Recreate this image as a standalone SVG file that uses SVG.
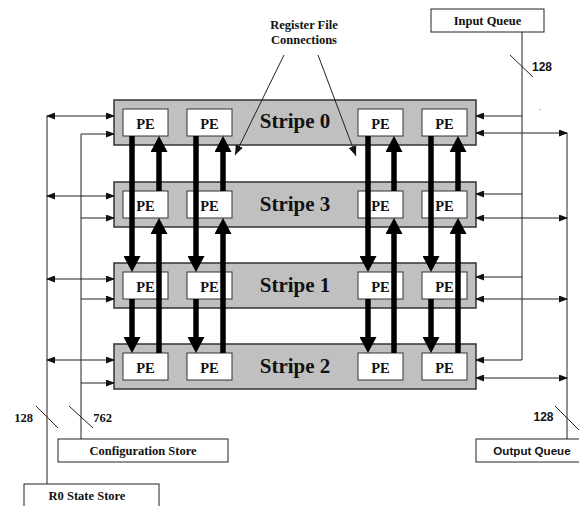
<svg xmlns="http://www.w3.org/2000/svg" width="579" height="506" viewBox="0 0 579 506">
<style>
.stripe{fill:#c0c0c0;stroke:#333;stroke-width:1.5}
.pe{fill:#fff;stroke:#333;stroke-width:1}
.box{fill:#fff;stroke:#222;stroke-width:1}
.ln{fill:none;stroke:#222;stroke-width:1}
.thick{fill:none;stroke:#000;stroke-width:5.5}
.st{font-family:"Liberation Serif","Times New Roman",serif;font-weight:bold;font-size:21px;fill:#111;text-anchor:middle}
.pet{font-family:"Liberation Serif","Times New Roman",serif;font-weight:bold;font-size:14.5px;fill:#111;text-anchor:middle}
.lbl{font-family:"Liberation Serif","Times New Roman",serif;font-weight:bold;font-size:12.5px;fill:#111;text-anchor:middle}
.sans{font-family:"Liberation Sans",Arial,sans-serif;font-weight:bold;font-size:12px;fill:#111;text-anchor:middle}
</style>
<defs>
<marker id="ah" markerUnits="userSpaceOnUse" markerWidth="9" markerHeight="7" refX="8" refY="3.5" orient="auto-start-reverse" viewBox="0 0 9 7">
<path d="M0,0 L9,3.5 L0,7 z" fill="#111"/>
</marker>
<marker id="rh" markerUnits="userSpaceOnUse" markerWidth="10" markerHeight="8" refX="10" refY="4" orient="auto" viewBox="0 0 10 8">
<path d="M0,0 L10,4 L0,8 z" fill="#111"/>
</marker>
<marker id="th" markerUnits="userSpaceOnUse" markerWidth="17" markerHeight="17" refX="1" refY="8.5" orient="auto" viewBox="0 0 17 17">
<path d="M0,0 L16,8.5 L0,17 z" fill="#000"/>
</marker>
</defs>

<g id="stripe0">
<rect class="stripe" x="114" y="100" width="362" height="45"/>
<text class="st" x="295" y="128">Stripe 0</text>
</g>
<g id="stripe3">
<rect class="stripe" x="114" y="182" width="362" height="45"/>
<text class="st" x="295" y="211">Stripe 3</text>
</g>
<g id="stripe1">
<rect class="stripe" x="114" y="263" width="362" height="45"/>
<text class="st" x="295" y="292">Stripe 1</text>
</g>
<g id="stripe2">
<rect class="stripe" x="114" y="344" width="362" height="45"/>
<text class="st" x="295" y="373">Stripe 2</text>
</g>

<g id="pe-s0">
<rect class="pe" x="123" y="109" width="45" height="27"/><text class="pet" x="145.5" y="128.5">PE</text>
<rect class="pe" x="187" y="109" width="45" height="27"/><text class="pet" x="209.5" y="128.5">PE</text>
<rect class="pe" x="358" y="109" width="45" height="27"/><text class="pet" x="380.5" y="128.5">PE</text>
<rect class="pe" x="422" y="109" width="45" height="27"/><text class="pet" x="444.5" y="128.5">PE</text>
</g>
<g id="pe-s3">
<rect class="pe" x="123" y="191" width="45" height="27"/><text class="pet" x="145.5" y="210.5">PE</text>
<rect class="pe" x="187" y="191" width="45" height="27"/><text class="pet" x="209.5" y="210.5">PE</text>
<rect class="pe" x="358" y="191" width="45" height="27"/><text class="pet" x="380.5" y="210.5">PE</text>
<rect class="pe" x="422" y="191" width="45" height="27"/><text class="pet" x="444.5" y="210.5">PE</text>
</g>
<g id="pe-s1">
<rect class="pe" x="123" y="272" width="45" height="27"/><text class="pet" x="145.5" y="291.5">PE</text>
<rect class="pe" x="187" y="272" width="45" height="27"/><text class="pet" x="209.5" y="291.5">PE</text>
<rect class="pe" x="358" y="272" width="45" height="27"/><text class="pet" x="380.5" y="291.5">PE</text>
<rect class="pe" x="422" y="272" width="45" height="27"/><text class="pet" x="444.5" y="291.5">PE</text>
</g>
<g id="pe-s2">
<rect class="pe" x="123" y="353" width="45" height="27"/><text class="pet" x="145.5" y="372.5">PE</text>
<rect class="pe" x="187" y="353" width="45" height="27"/><text class="pet" x="209.5" y="372.5">PE</text>
<rect class="pe" x="358" y="353" width="45" height="27"/><text class="pet" x="380.5" y="372.5">PE</text>
<rect class="pe" x="422" y="353" width="45" height="27"/><text class="pet" x="444.5" y="372.5">PE</text>
</g>

<g id="input-queue">
<rect class="box" x="431" y="9" width="113" height="23"/>
<text class="lbl" x="487.5" y="25">Input Queue</text>
</g>
<g id="output-queue">
<rect class="box" x="476" y="439" width="110" height="23"/>
<text class="sans" x="532" y="455" style="font-size:11.6px">Output Queue</text>
</g>
<g id="config-store">
<rect class="box" x="58" y="439" width="170" height="23"/>
<text class="lbl" x="143" y="455">Configuration Store</text>
</g>
<g id="r0-state-store">
<rect class="box" x="24" y="484" width="135" height="30"/>
<text class="lbl" x="87" y="500">R0 State Store</text>
</g>
<g id="register-label">
<text class="lbl" x="304" y="29">Register File</text>
<text class="lbl" x="304" y="44">Connections</text>
</g>

<g id="connectors">
<!-- thick ring connections -->
<g class="thick-arrows">
<line class="thick" x1="132" y1="136" x2="132" y2="257" marker-end="url(#th)"/>
<line class="thick" x1="196" y1="136" x2="196" y2="257" marker-end="url(#th)"/>
<line class="thick" x1="368" y1="136" x2="368" y2="257" marker-end="url(#th)"/>
<line class="thick" x1="431" y1="136" x2="431" y2="257" marker-end="url(#th)"/>
<line class="thick" x1="132" y1="299" x2="132" y2="338" marker-end="url(#th)"/>
<line class="thick" x1="196" y1="299" x2="196" y2="338" marker-end="url(#th)"/>
<line class="thick" x1="368" y1="299" x2="368" y2="338" marker-end="url(#th)"/>
<line class="thick" x1="431" y1="299" x2="431" y2="338" marker-end="url(#th)"/>
<line class="thick" x1="159" y1="191" x2="159" y2="151" marker-end="url(#th)"/>
<line class="thick" x1="223" y1="191" x2="223" y2="151" marker-end="url(#th)"/>
<line class="thick" x1="394" y1="191" x2="394" y2="151" marker-end="url(#th)"/>
<line class="thick" x1="458" y1="191" x2="458" y2="151" marker-end="url(#th)"/>
<line class="thick" x1="159" y1="353" x2="159" y2="233" marker-end="url(#th)"/>
<line class="thick" x1="223" y1="353" x2="223" y2="233" marker-end="url(#th)"/>
<line class="thick" x1="394" y1="353" x2="394" y2="233" marker-end="url(#th)"/>
<line class="thick" x1="458" y1="353" x2="458" y2="233" marker-end="url(#th)"/>
</g>
<!-- R0 state store bus -->
<line class="ln" x1="47" y1="116" x2="47" y2="484"/>
<line class="ln" x1="47" y1="116" x2="114" y2="116" marker-start="url(#ah)" marker-end="url(#ah)"/>
<line class="ln" x1="47" y1="196" x2="114" y2="196" marker-start="url(#ah)" marker-end="url(#ah)"/>
<line class="ln" x1="47" y1="279" x2="114" y2="279" marker-start="url(#ah)" marker-end="url(#ah)"/>
<line class="ln" x1="47" y1="360" x2="114" y2="360" marker-start="url(#ah)" marker-end="url(#ah)"/>
<!-- configuration bus -->
<line class="ln" x1="81" y1="134" x2="81" y2="439"/>
<line class="ln" x1="81" y1="134" x2="114" y2="134" marker-end="url(#ah)"/>
<line class="ln" x1="81" y1="218" x2="114" y2="218" marker-end="url(#ah)"/>
<line class="ln" x1="81" y1="299" x2="114" y2="299" marker-end="url(#ah)"/>
<line class="ln" x1="81" y1="383" x2="114" y2="383" marker-end="url(#ah)"/>
<!-- input queue bus -->
<line class="ln" x1="522" y1="32" x2="522" y2="360"/>
<line class="ln" x1="522" y1="116" x2="476" y2="116" marker-end="url(#ah)"/>
<line class="ln" x1="522" y1="194" x2="476" y2="194" marker-end="url(#ah)"/>
<line class="ln" x1="522" y1="277" x2="476" y2="277" marker-end="url(#ah)"/>
<line class="ln" x1="522" y1="360" x2="476" y2="360" marker-end="url(#ah)"/>
<!-- output queue bus -->
<line class="ln" x1="567" y1="133" x2="567" y2="439"/>
<line class="ln" x1="476" y1="133" x2="567" y2="133" marker-start="url(#ah)" marker-end="url(#ah)"/>
<line class="ln" x1="476" y1="218" x2="567" y2="218" marker-start="url(#ah)" marker-end="url(#ah)"/>
<line class="ln" x1="476" y1="299" x2="567" y2="299" marker-start="url(#ah)" marker-end="url(#ah)"/>
<line class="ln" x1="476" y1="378" x2="567" y2="378" marker-start="url(#ah)" marker-end="url(#ah)"/>
<!-- register file connection pointers -->
<line class="ln" x1="284" y1="55" x2="235" y2="155" marker-end="url(#rh)"/>
<line class="ln" x1="318" y1="55" x2="356" y2="156" marker-end="url(#rh)"/>
<!-- bus width slashes -->
<line class="ln" x1="36" y1="406" x2="58" y2="428"/>
<line class="ln" x1="69" y1="406" x2="93" y2="428"/>
<line class="ln" x1="510" y1="55" x2="533" y2="77"/>
<line class="ln" x1="555" y1="406" x2="580" y2="431"/>
</g>

<g id="bus-widths">
<text class="lbl" x="23.5" y="421.5">128</text>
<text class="lbl" x="102.5" y="421.5">762</text>
<text class="sans" x="542" y="71">128</text>
<text class="sans" x="543.5" y="421">128</text>
<text class="sans" x="540" y="110" style="font-size:8px;font-weight:normal">.</text>
</g>
</svg>
